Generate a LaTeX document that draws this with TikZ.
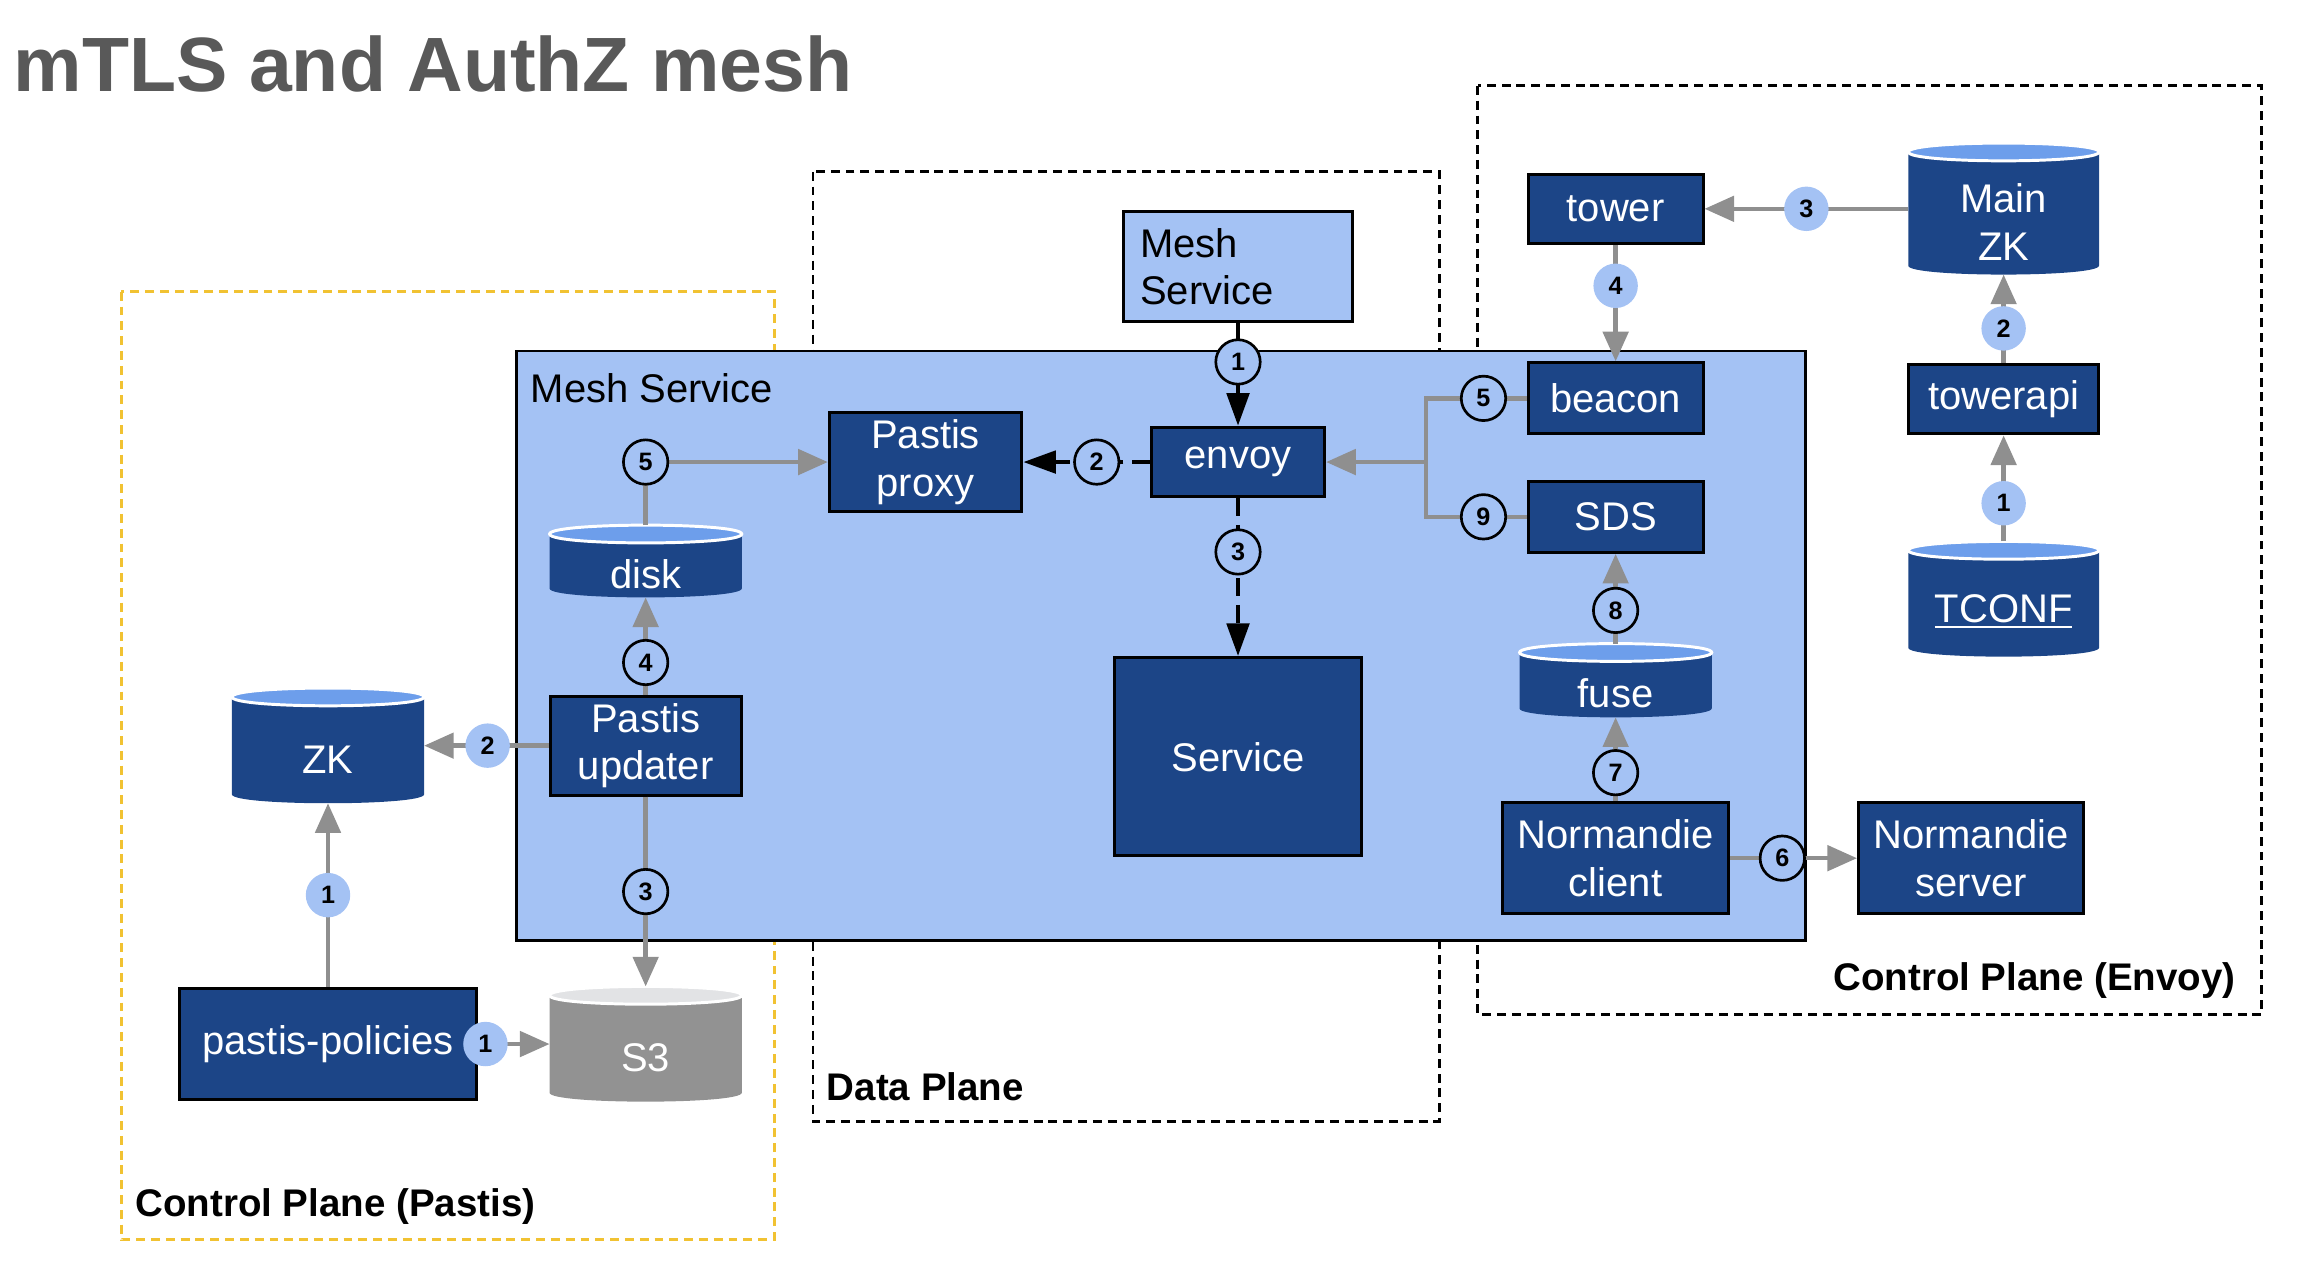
\documentclass[tikz,border=0pt]{standalone}
\usepackage{fontspec}
\setmainfont{Liberation Sans}
\usetikzlibrary{arrows.meta,calc}

\definecolor{dblue}{HTML}{1C4587}
\definecolor{lblue}{HTML}{A4C2F4}
\definecolor{dtop}{HTML}{6D9EEB}
\definecolor{linegray}{HTML}{8F8F8F}
\definecolor{sgray}{HTML}{929292}
\definecolor{stop}{HTML}{E2E3E5}
\definecolor{titlegray}{HTML}{595959}
\definecolor{pastisorange}{HTML}{F1C232}

\tikzset{
  box/.style={draw=black, line width=1pt, fill=dblue, text=white, align=center,
    inner sep=2pt, font=\fontsize{13.5}{16}\selectfont},
  store/.style={inner sep=0pt},
  storetext/.style={text=white, align=center, font=\fontsize{13.5}{16}\selectfont},
  gline/.style={draw=linegray, line width=1.5pt},
  garrow/.style={gline, -{Triangle[length=10pt,width=8.5pt]}},
  flow/.style={draw=black, line width=1.5pt, dash pattern=on 6pt off 3pt,
    -{Triangle[length=11pt,width=7.5pt]}},
  obadge/.style={circle, draw=black, line width=0.9pt, fill=lblue, minimum size=15pt,
    inner sep=0pt, solid, font=\bfseries\fontsize{8.5}{10}\selectfont},
  lbadge/.style={circle, fill=lblue, minimum size=15pt, inner sep=0pt,
    font=\bfseries\fontsize{8.5}{10}\selectfont},
  planebox/.style={line width=1pt, dash pattern=on 3pt off 2pt},
  planelabel/.style={inner sep=0pt, font=\bfseries\fontsize{13}{15}\selectfont}
}

% cylinder drawn over an empty node of the same size
\newcommand\storebody[3]{%
  \fill[#2] ($(#1.north west)+(0,6)$) -- ($(#1.south west)+(0,-6)$)
    .. controls +(0,8) and +(0,8) .. ($(#1.south east)+(0,-6)$)
    -- ($(#1.north east)+(0,6)$) -- cycle;
  \filldraw[fill=#3, draw=white, line width=1pt] ($(#1.north west)+(0,6)$)
    .. controls +(0,-8) and +(0,-8) .. ($(#1.north east)+(0,6)$)
    .. controls +(0,8) and +(0,8) .. ($(#1.north west)+(0,6)$) -- cycle;
}

\begin{document}
\begin{tikzpicture}[x=0.5pt, y=-0.5pt]
  \useasboundingbox (0,0) rectangle (1568,859);

  \node[anchor=base west, inner sep=0pt, text=titlegray,
    font=\bfseries\fontsize{26}{30}\selectfont] (title) at (9,62) {mTLS and AuthZ mesh};

  % planes
  \draw[planebox, draw=pastisorange] (82,197) rectangle (523,837);
  \draw[planebox] (549,116) rectangle (972,757);
  \draw[planebox] (998,58) rectangle (1527,685);
  \node[planelabel, anchor=west] (cppastis) at (91,815) {Control Plane (Pastis)};
  \node[planelabel, anchor=west] (dplane) at (558,734) {Data Plane};
  \node[planelabel, anchor=east] (cpenvoy) at (1510,662) {Control Plane (Envoy)};

  % mesh service
  \draw[fill=lblue, line width=1pt] (349,237) rectangle (1219,635);
  \node[anchor=west, inner sep=0pt, font=\fontsize{13.5}{16}\selectfont]
    (meshlabel) at (358,262) {Mesh Service};

  \node[box, fill=lblue, text=black, minimum width=77.5pt, minimum height=37pt,
    text width=66pt, align=left] (mstop) at (836,180) {Mesh\\Service};
  \node[box, minimum width=58.5pt, minimum height=23.5pt] (envoy) at (836,312) {envoy};
  \node[box, minimum width=65pt, minimum height=33.5pt] (proxy) at (625,312) {Pastis\\proxy};
  \node[box, minimum width=64.5pt, minimum height=33.5pt] (updater) at (436,503.5) {Pastis\\updater};
  \node[box, minimum width=100.5pt, minimum height=37.5pt] (policies) at (221.5,705) {pastis-policies};
  \node[box, minimum width=83.5pt, minimum height=67pt] (service) at (836,511) {Service};
  \node[box, minimum width=59pt, minimum height=23.5pt] (tower) at (1091,141) {tower};
  \node[box, minimum width=64pt, minimum height=23.5pt] (towerapi) at (1353,269.5) {towerapi};
  \node[box, minimum width=59pt, minimum height=24pt] (beacon) at (1091,269) {beacon};
  \node[box, minimum width=59pt, minimum height=24pt] (sds) at (1091,349) {SDS};
  \node[box, minimum width=76.5pt, minimum height=37.5pt] (nclient) at (1091,579.5) {Normandie\\client};
  \node[box, minimum width=76pt, minimum height=37.5pt] (nserver) at (1331,579.5) {Normandie\\server};

  % stores
  \node[store, minimum width=64.5pt, minimum height=24pt] (disk) at (436,379) {};
  \node[store, minimum width=64.5pt, minimum height=38.5pt] (zk) at (221.5,503.5) {};
  \node[store, minimum width=64.5pt, minimum height=38.5pt] (s3) at (436,705) {};
  \node[store, minimum width=64pt, minimum height=44pt] (mainzk) at (1353,141) {};
  \node[store, minimum width=64pt, minimum height=38.5pt] (tconf) at (1353,404.5) {};
  \node[store, minimum width=64.5pt, minimum height=24.5pt] (fuse) at (1091,459.5) {};
  \storebody{disk}{dblue}{dtop}
  \storebody{zk}{dblue}{dtop}
  \storebody{s3}{sgray}{stop}
  \storebody{mainzk}{dblue}{dtop}
  \storebody{tconf}{dblue}{dtop}
  \storebody{fuse}{dblue}{dtop}
  \node[storetext] (disktext) at (436,388) {disk};
  \node[storetext] (zktext) at (221.5,513) {ZK};
  \node[storetext] (s3text) at (436,714) {S3};
  \node[storetext] (mainzktext) at (1353,150) {Main\\ZK};
  \node[storetext] (tconftext) at (1353,413) {\underline{TCONF}};
  \node[storetext] (fusetext) at (1091,468) {fuse};

  % data plane flow
  \draw[flow] (mstop) -- node[obadge, pos=0.38] {1} (envoy);
  \draw[flow] (envoy) -- node[obadge, pos=0.42] {2} (proxy);
  \draw[flow] (envoy) -- node[obadge, pos=0.34] {3} (service);

  % pastis
  \draw[garrow] (policies) -- node[lbadge, pos=0.5] {1} (zk);
  \draw[garrow] (policies) -- node[lbadge, pos=0.1] {1} (s3);
  \draw[garrow] (updater) -- node[lbadge, pos=0.49] {2} (zk);
  \draw[garrow] (updater) -- node[obadge, pos=0.5] {3} (s3);
  \draw[garrow] (updater) -- node[obadge, pos=0.33] {4} (disk);
  \draw[garrow] (disk) |- node[obadge] {5} (proxy);

  % envoy control plane
  \draw[garrow] (tconf) -- node[lbadge, pos=0.36] {1} (towerapi);
  \draw[garrow] (towerapi) -- node[lbadge, pos=0.39] {2} (mainzk);
  \draw[garrow] (mainzk) -- node[lbadge, pos=0.5] {3} (tower);
  \draw[garrow] (tower) -- node[lbadge, pos=0.35] {4} (beacon);
  \coordinate (jn) at (963,312);
  \draw[gline] (beacon.west) -- node[obadge, pos=0.43] {5} (beacon.west -| jn)
    -- (sds.west -| jn) -- node[obadge, pos=0.57] {9} (sds.west);
  \draw[garrow] (jn) -- (envoy);
  \draw[garrow] (nclient) -- node[obadge, pos=0.41] {6} (nserver);
  \draw[garrow] (nclient) -- node[obadge, pos=0.34] {7} (fuse);
  \draw[garrow] (fuse) -- node[obadge, pos=0.37] {8} (sds);
\end{tikzpicture}
\end{document}
